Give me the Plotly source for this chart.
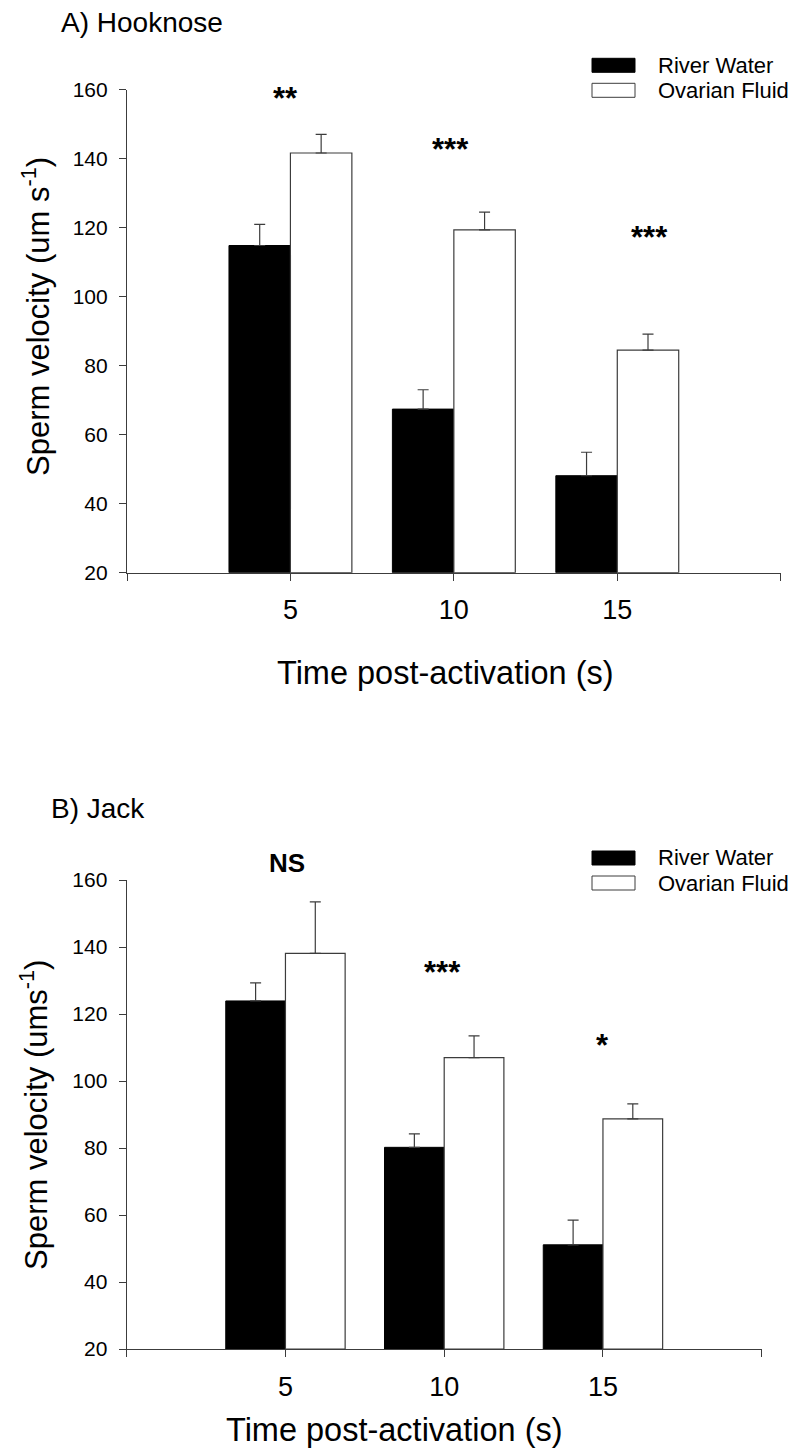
import plotly.graph_objects as go

W, H = 794, 1453

# ---------------- data ----------------
times = [5, 10, 15]
end_ticks = [0, 20]

hook_river = [114.8, 67.4, 48.1]
hook_river_err = [6.1, 5.6, 6.8]
hook_ovarian = [141.6, 119.3, 84.5]
hook_ovarian_err = [5.4, 5.2, 4.6]
hook_sig = ["**", "***", "***"]
hook_sig_x = [4.85, 9.9, 16.0]
hook_sig_y = [157.5, 142.5, 117.0]

jack_river = [123.9, 80.2, 51.1]
jack_river_err = [5.4, 4.0, 7.4]
jack_ovarian = [138.1, 107.0, 88.7]
jack_ovarian_err = [15.4, 6.5, 4.5]
jack_sig = ["NS", "***", "*"]
jack_sig_x = [5.05, 9.95, 15.0]
jack_sig_y = [165.0, 132.5, 110.5]

y_ticks = [20, 40, 60, 80, 100, 120, 140, 160]
series_names = ["River Water", "Ovarian Fluid"]
panel_titles = ["A) Hooknose", "B) Jack"]
y_titles = ["Sperm velocity (um s<sup>-1</sup>)", "Sperm velocity (ums<sup>-1</sup>)"]
x_title = "Time post-activation (s)"

# ---------------- layout helpers ----------------
FONT = "Liberation Sans, Arial, sans-serif"
AX = "#3c3c3c"
BAR_W = 1.88
Y_MIN, Y_MAX = 20, 160


def px(x):
    return x / W


def py(y):
    return 1 - y / H


fig = go.Figure()

panels = [
    dict(river=hook_river, rerr=hook_river_err, ov=hook_ovarian, oerr=hook_ovarian_err,
         sig=hook_sig, sx=hook_sig_x, sy=hook_sig_y,
         xd=[127, 780.7], yd=[89.5, 572.7], xa="x", ya="y"),
    dict(river=jack_river, rerr=jack_river_err, ov=jack_ovarian, oerr=jack_ovarian_err,
         sig=jack_sig, sx=jack_sig_x, sy=jack_sig_y,
         xd=[126.7, 761.7], yd=[880, 1349], xa="x2", ya="y2"),
]

for i, p in enumerate(panels):
    fig.add_trace(go.Bar(
        x=times, y=[v - Y_MIN for v in p["river"]], base=Y_MIN, width=BAR_W, offset=-BAR_W,
        name=series_names[0], marker=dict(color="black", line=dict(color="black", width=1)),
        error_y=dict(type="data", array=p["rerr"], arrayminus=[0, 0, 0], symmetric=False,
                     color=AX, thickness=1.2, width=5.5),
        xaxis=p["xa"], yaxis=p["ya"], showlegend=False))
    fig.add_trace(go.Bar(
        x=times, y=[v - Y_MIN for v in p["ov"]], base=Y_MIN, width=BAR_W, offset=0,
        name=series_names[1], marker=dict(color="white", line=dict(color=AX, width=1.2)),
        error_y=dict(type="data", array=p["oerr"], arrayminus=[0, 0, 0], symmetric=False,
                     color=AX, thickness=1.2, width=5.5),
        xaxis=p["xa"], yaxis=p["ya"], showlegend=False))

axis_common = dict(showline=True, linecolor=AX, linewidth=1.2, mirror=False,
                   ticks="outside", ticklen=7, tickcolor=AX, tickwidth=1.2,
                   showgrid=False, zeroline=False, automargin=False)

layout = dict(
    width=W, height=H, margin=dict(l=0, r=0, t=0, b=0), autosize=False,
    paper_bgcolor="white", plot_bgcolor="white", barmode="overlay",
    font=dict(family=FONT, color="black"),
    showlegend=False,
)
for i, p in enumerate(panels):
    sfx = "" if i == 0 else "2"
    layout["xaxis" + sfx] = dict(axis_common, domain=[px(p["xd"][0]), px(p["xd"][1])],
                                 range=[0, 20], tickvals=times,
                                 tickfont=dict(family=FONT, size=27, color="black"),
                                 minor=dict(tickvals=end_ticks, ticks="outside", ticklen=7,
                                            tickcolor=AX, tickwidth=1.2, showgrid=False),
                                 anchor="y" + sfx, ticklabelstandoff=6)
    layout["yaxis" + sfx] = dict(axis_common, domain=[py(p["yd"][1]), py(p["yd"][0])],
                                 range=[Y_MIN, Y_MAX], tickvals=y_ticks,
                                 tickfont=dict(family=FONT, size=21, color="black"),
                                 anchor="x" + sfx, ticklabelstandoff=7)
fig.update_layout(**layout)

ann = []
shapes = []
title_pos = [(59, 23), (49, 808)]
xt_pos = [(445, 673), (394, 1430)]
yt_pos = [(36, 317), (34, 1115)]
legend_top = [58.3, 851]
for i, p in enumerate(panels):
    ann.append(dict(text=panel_titles[i], x=px(title_pos[i][0]), y=py(title_pos[i][1]),
                    xref="paper", yref="paper", xanchor="left", yanchor="middle",
                    showarrow=False, font=dict(size=28, family=FONT, color="black")))
    ann.append(dict(text=x_title, x=px(xt_pos[i][0]), y=py(xt_pos[i][1]),
                    xref="paper", yref="paper", xanchor="center", yanchor="middle",
                    showarrow=False, font=dict(size=32.5, family=FONT, color="black")))
    ann.append(dict(text=y_titles[i], x=px(yt_pos[i][0]), y=py(yt_pos[i][1]),
                    xref="paper", yref="paper", xanchor="center", yanchor="middle",
                    textangle=-90, showarrow=False,
                    font=dict(size=31, family=FONT, color="black")))
    xr = "x" if i == 0 else "x2"
    yr = ("y" if i == 0 else "y2") + " domain"
    for s, sx, sy in zip(p["sig"], p["sx"], p["sy"]):
        is_star = s.startswith("*")
        ann.append(dict(text="<b>%s</b>" % s, x=sx, y=(sy - Y_MIN) / (Y_MAX - Y_MIN),
                        xref=xr, yref=yr,
                        xanchor="center", yanchor="middle", showarrow=False,
                        font=dict(size=31 if is_star else 26, family=FONT, color="black")))
    lt = legend_top[i]
    for k, (fill, name) in enumerate(zip(["black", "white"], series_names)):
        y0 = lt + k * 25
        shapes.append(dict(type="rect", xref="paper", yref="paper",
                           x0=px(592), x1=px(635), y0=py(y0), y1=py(y0 + 14),
                           fillcolor=fill, line=dict(color="black" if k == 0 else AX, width=1)))
        ann.append(dict(text=name, x=px(656), y=py(y0 + 7), xref="paper", yref="paper",
                        xanchor="left", yanchor="middle", showarrow=False,
                        font=dict(size=22, family=FONT, color="black")))

fig.update_layout(annotations=ann, shapes=shapes)
fig.write_html("out.html", config={"displayModeBar": False},
               post_script="document.body.style.margin='0';document.body.style.overflow='hidden';")
